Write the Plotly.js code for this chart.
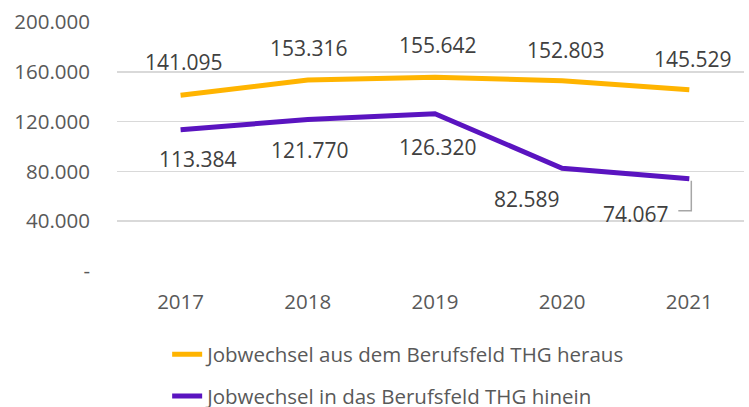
<!DOCTYPE html>
<html>
<head>
<meta charset="utf-8">
<script src="https://cdn.plot.ly/plotly-3.0.1.min.js"></script>
<style>html,body{margin:0;padding:0;background:#fff;}#chart{width:749px;height:407px;}</style>
</head>
<body>
<div id="chart"></div>
<script>
const years = ["2017", "2018", "2019", "2020", "2021"];
const heraus = [141095, 153316, 155642, 152803, 145529];
const hinein = [113384, 121770, 126320, 82589, 74067];
const seriesNames = ["Jobwechsel aus dem Berufsfeld THG heraus", "Jobwechsel in das Berufsfeld THG hinein"];
const yTickVals = [0, 40000, 80000, 120000, 160000, 200000];
const yTickText = ["-", "40.000", "80.000", "120.000", "160.000", "200.000"];

const orange = "#FFB400";
const purple = "#5A14C0";
const fontFam = "'Open Sans', 'Noto Sans', sans-serif";

function fmt(v) {
  return String(v).replace(/\B(?=(\d{3})+(?!\d))/g, ".");
}

const traces = [
  { x: years, y: heraus, name: seriesNames[0], type: "scatter", mode: "lines",
    line: { color: orange, width: 5 }, legendgroup: "a", hoverinfo: "skip" },
  { x: years, y: hinein, name: seriesNames[1], type: "scatter", mode: "lines",
    line: { color: purple, width: 5 }, legendgroup: "b", hoverinfo: "skip" }
];

const annotations = [];
const orangeShift = [[3, 33], [1, 32], [3, 32], [4, 31], [4, 31]];
heraus.forEach((v, i) => {
  annotations.push({ xref: "x", yref: "y", x: i, y: v, text: fmt(v), showarrow: false,
    xshift: orangeShift[i][0], yshift: orangeShift[i][1],
    font: { family: fontFam, size: 21, color: "#404040" } });
});
const purpleShift = [[17, -29], [2, -31], [3, -33], [-35, -31], [-53, -35]];
hinein.forEach((v, i) => {
  annotations.push({ xref: "x", yref: "y", x: i, y: v, text: fmt(v), showarrow: false,
    xshift: purpleShift[i][0], yshift: purpleShift[i][1],
    font: { family: fontFam, size: 21, color: "#404040" } });
});

const layout = {
  width: 749, height: 407,
  margin: { l: 117, r: 5, t: 22, b: 136, autoexpand: false },
  paper_bgcolor: "#fff", plot_bgcolor: "#fff",
  font: { family: fontFam, size: 20, color: "#595959" },
  showlegend: true,
  legend: { orientation: "v", x: 0.08, xanchor: "left", y: -0.255, yanchor: "top",
    traceorder: "grouped", tracegroupgap: 12,
    font: { family: fontFam, size: 20.5, color: "#595959" }, bgcolor: "rgba(0,0,0,0)" },
  xaxis: { type: "category", range: [-0.5, 4.43], showgrid: false, zeroline: false, showline: false,
    ticks: "", ticklabelstandoff: 16, tickfont: { family: fontFam, size: 20.5, color: "#595959" }, fixedrange: true },
  yaxis: { range: [0, 200000], tickvals: yTickVals, ticktext: yTickText, showgrid: true,
    gridcolor: "#D9D9D9", gridwidth: 1.5, zeroline: false, showline: false, ticks: "",
    ticklabelstandoff: 26, tickfont: { family: fontFam, size: 20.5, color: "#595959" }, fixedrange: true },
  annotations: annotations,
  shapes: [
    { type: "path", xref: "x", yref: "y", xsizemode: "pixel", ysizemode: "pixel",
      xanchor: 4, yanchor: hinein[4], path: "M2,-2 L2,-32 L-11,-32",
      line: { color: "#A6A6A6", width: 1.5 } }
  ]
};

Plotly.newPlot("chart", traces, layout, { displayModeBar: false, staticPlot: true });
</script>
</body>
</html>
